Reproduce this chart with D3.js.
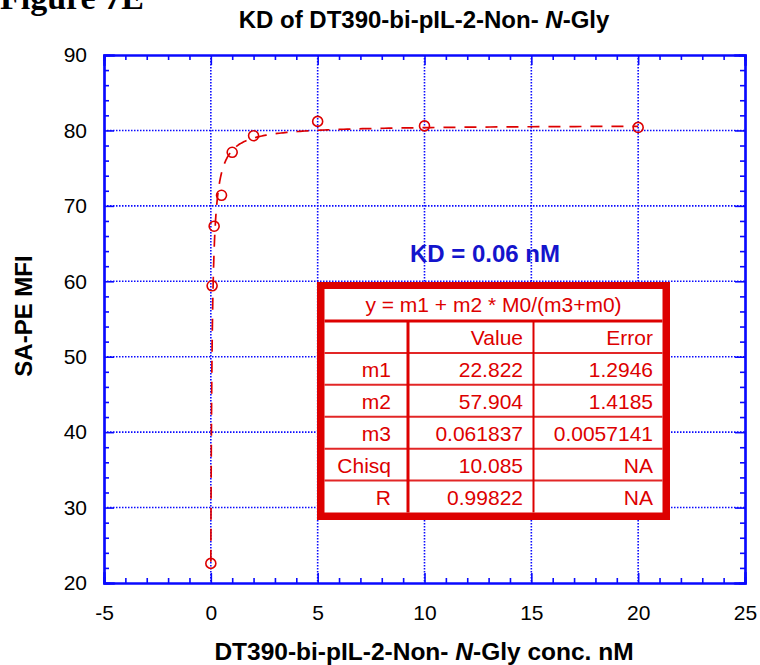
<!DOCTYPE html>
<html><head><meta charset="utf-8">
<script src="https://cdn.jsdelivr.net/npm/d3@7"></script>
<style>body{margin:0;background:#fff}svg{display:block}text{font-family:"Liberation Sans",Arial,sans-serif}</style>
</head><body>
<svg id="c" width="760" height="665"></svg>
<script>
// ---- data ----
const concX = [0, 0.06, 0.155, 0.5, 1, 2, 5, 10, 20];
const mfiY = [22.6, 59.4, 67.3, 71.4, 77.1, 79.3, 81.2, 80.6, 80.4];
const xTicks = [-5, 0, 5, 10, 15, 20, 25];
const yTicks = [20, 30, 40, 50, 60, 70, 80, 90];
const fitParams = [22.822, 57.904, 0.061837]; // m1, m2, m3
const tableHeader = ["", "Value", "Error"];
const tableRowNames = ["m1", "m2", "m3", "Chisq", "R"];
const tableValues = ["22.822", "57.904", "0.061837", "10.085", "0.99822"];
const tableErrors = ["1.2946", "1.4185", "0.0057141", "NA", "NA"];
const equationText = "y = m1 + m2 * M0/(m3+m0)";
const kdText = "KD = 0.06 nM";

const BLUE = "#0a0aff", RED = "#dd0000";
const svg = d3.select("#c");
const L = 104, R = 745, T = 55, B = 583;
const x = d3.scaleLinear().domain([-5, 25]).range([L, R]);
const y = d3.scaleLinear().domain([20, 90]).range([B, T]);

// Figure label (cut off at top in the original)
svg.append("text").attr("x", 0).attr("y", 9)
  .style("font-family", "'Liberation Serif',serif").style("font-weight", "bold")
  .style("font-size", "34px").text("Figure 7E");

// title
const title = svg.append("text").attr("x", 424).attr("y", 28).attr("text-anchor", "middle")
  .style("font-weight", "bold").style("font-size", "24px");
title.append("tspan").text("KD of DT390-bi-pIL-2-Non- ");
title.append("tspan").style("font-style", "italic").text("N");
title.append("tspan").text("-Gly");

// grid
const g = svg.append("g");
g.selectAll(".gx").data(xTicks.filter(d => d > -5 && d < 25)).join("line")
  .attr("x1", d => x(d)).attr("x2", d => x(d)).attr("y1", T).attr("y2", B)
  .attr("stroke", BLUE).attr("stroke-width", 1.6).attr("stroke-dasharray", "1.5,1.5");
g.selectAll(".gy").data(yTicks.filter(d => d > 20 && d < 90)).join("line")
  .attr("y1", d => y(d)).attr("y2", d => y(d)).attr("x1", L).attr("x2", R)
  .attr("stroke", BLUE).attr("stroke-width", 1.6).attr("stroke-dasharray", "1.5,1.5");

// fit curve
const fit = v => fitParams[0] + fitParams[1] * v / (fitParams[2] + v);
const curveX = [0].concat(d3.range(0, 400).map(i => 0.0005 * Math.pow(20 / 0.0005, i / 399)));
const line = d3.line().x(d => x(d)).y(d => y(fit(d)));
svg.append("path").datum(curveX).attr("d", line).attr("fill", "none")
  .attr("stroke", RED).attr("stroke-width", 1.7).attr("stroke-dasharray", "12,9");

// points
svg.selectAll(".pt").data(concX).join("circle")
  .attr("cx", d => x(d)).attr("cy", (d, i) => y(mfiY[i])).attr("r", 5)
  .attr("fill", "none").attr("stroke", RED).attr("stroke-width", 1.6);

// KD label
svg.append("text").attr("x", 485).attr("y", 262).attr("text-anchor", "middle")
  .style("font-weight", "bold").style("font-size", "24px").attr("fill", "#1414cc").text(kdText);

// table
const tb = svg.append("g");
const tL = 317, tR = 670, tT = 282, tB = 520, bw = 7.5;
const iL = tL + bw, iR = tR - bw, iT = tT + bw - 0.5;
const headH = 32;
tb.append("rect").attr("x", tL).attr("y", tT).attr("width", tR - tL).attr("height", tB - tT).attr("fill", RED);
tb.append("rect").attr("x", iL).attr("y", iT).attr("width", iR - iL).attr("height", tB - bw - iT).attr("fill", "#fff");
const headBottom = iT + headH;
const colX = [iL, 408, 533.5, iR];
tb.append("line").attr("x1", iL).attr("x2", iR).attr("y1", headBottom).attr("y2", headBottom).attr("stroke", RED).attr("stroke-width", 3);
const rowBottoms = d3.range(1, 7).map(i => headBottom + i * (tB - bw - headBottom) / 6);
tb.selectAll(".rl").data(rowBottoms.slice(0, 5)).join("line")
  .attr("x1", iL).attr("x2", iR).attr("y1", d => d).attr("y2", d => d)
  .attr("stroke", RED).attr("stroke-width", 2).attr("stroke-opacity", 0.85);
tb.append("line").attr("x1", colX[1]).attr("x2", colX[1]).attr("y1", headBottom).attr("y2", tB - bw).attr("stroke", RED).attr("stroke-width", 3);
tb.append("line").attr("x1", colX[2]).attr("x2", colX[2]).attr("y1", headBottom).attr("y2", tB - bw).attr("stroke", RED).attr("stroke-width", 2);
const ts = s => s.style("font-size", "21px").attr("fill", RED);
tb.append("text").attr("x", (iL + iR) / 2).attr("y", headBottom - 9).attr("text-anchor", "middle").call(ts).text(equationText);
const rows = [tableHeader].concat(tableRowNames.map((n, i) => [n, tableValues[i], tableErrors[i]]));
const textRight = [391, 523, 653];
rows.forEach((r, ri) => {
  r.forEach((c, ci) => {
    tb.append("text").attr("x", textRight[ci]).attr("y", rowBottoms[ri] - 8)
      .attr("text-anchor", "end").call(ts).text(c);
  });
});

// axes
const minorX = d3.range(-5, 26, 1).filter(d => d % 5 !== 0);
const minorY = d3.range(20, 91, 2).filter(d => d % 10 !== 0);
const plain = d => String(d);
function styleAxis(sel) {
  sel.selectAll("path.domain").attr("stroke", BLUE).attr("stroke-width", 2.2);
  sel.selectAll(".tick line").attr("stroke", BLUE).attr("stroke-width", 1.6);
  sel.selectAll(".tick text").attr("fill", "#000").style("font-size", "21px")
    .style("font-family", "'Liberation Sans',Arial,sans-serif");
}
svg.append("g").attr("transform", `translate(0,${B})`)
  .call(d3.axisBottom(x).tickValues(xTicks).tickSize(-10).tickPadding(22).tickFormat(plain)).call(styleAxis);
svg.append("g").attr("transform", `translate(0,${B})`)
  .call(d3.axisBottom(x).tickValues(minorX).tickSize(-5).tickFormat("")).call(styleAxis);
svg.append("g").attr("transform", `translate(0,${T})`)
  .call(d3.axisTop(x).tickValues(xTicks).tickSize(-10).tickFormat("")).call(styleAxis);
svg.append("g").attr("transform", `translate(0,${T})`)
  .call(d3.axisTop(x).tickValues(minorX).tickSize(-5).tickFormat("")).call(styleAxis);
svg.append("g").attr("transform", `translate(${L},0)`)
  .call(d3.axisLeft(y).tickValues(yTicks).tickSize(-10).tickPadding(17).tickFormat(plain)).call(styleAxis);
svg.append("g").attr("transform", `translate(${L},0)`)
  .call(d3.axisLeft(y).tickValues(minorY).tickSize(-5).tickFormat("")).call(styleAxis);
svg.append("g").attr("transform", `translate(${R},0)`)
  .call(d3.axisRight(y).tickValues(yTicks).tickSize(-10).tickFormat("")).call(styleAxis);
svg.append("g").attr("transform", `translate(${R},0)`)
  .call(d3.axisRight(y).tickValues(minorY).tickSize(-5).tickFormat("")).call(styleAxis);
svg.selectAll("path.domain").attr("stroke-linecap", "square");

// axis titles
const xt = svg.append("text").attr("x", 424).attr("y", 660).attr("text-anchor", "middle")
  .style("font-weight", "bold").style("font-size", "24.5px");
xt.append("tspan").text("DT390-bi-pIL-2-Non- ");
xt.append("tspan").style("font-style", "italic").text("N");
xt.append("tspan").text("-Gly conc. nM");
svg.append("text").attr("transform", "translate(32,316) rotate(-90)").attr("text-anchor", "middle")
  .style("font-weight", "bold").style("font-size", "24px").text("SA-PE MFI");
</script>
</body></html>
